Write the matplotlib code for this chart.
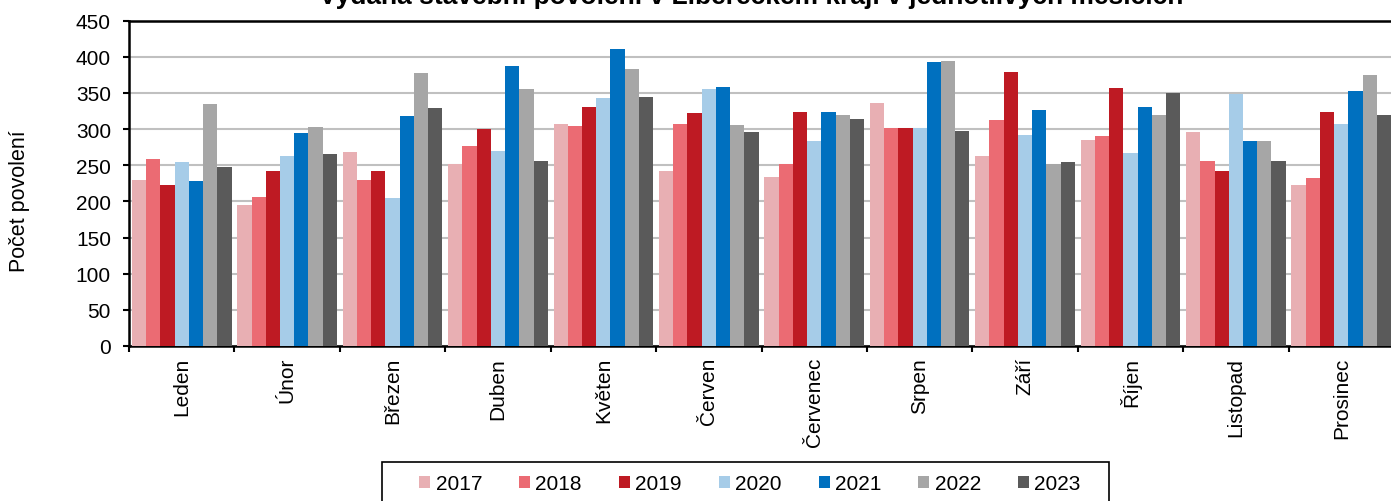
import matplotlib
matplotlib.use("Agg")
import matplotlib.pyplot as plt
from matplotlib.patches import Rectangle
import numpy as np

months = ["Leden", "Únor", "Březen", "Duben", "Květen", "Červen",
          "Červenec", "Srpen", "Září", "Říjen", "Listopad", "Prosinec"]
years = ["2017", "2018", "2019", "2020", "2021", "2022", "2023"]

v2017 = [230, 195, 268, 251, 307, 242, 234, 336, 263, 285, 296, 222]
v2018 = [258, 206, 230, 276, 304, 307, 252, 302, 312, 291, 256, 232]
v2019 = [222, 242, 242, 300, 330, 322, 324, 302, 379, 356, 242, 323]
v2020 = [254, 262, 204, 269, 343, 355, 284, 302, 292, 267, 348, 307]
v2021 = [228, 295, 318, 387, 411, 358, 324, 392, 326, 330, 284, 352]
v2022 = [334, 303, 378, 355, 383, 305, 319, 394, 251, 320, 283, 375]
v2023 = [248, 265, 329, 256, 344, 296, 314, 297, 254, 350, 256, 319]
series = [v2017, v2018, v2019, v2020, v2021, v2022, v2023]

colors = ["#E8AFB3", "#EB6B73", "#BE1A23", "#A6CCE8", "#0070BF", "#A6A6A6", "#5A5A5A"]

plt.rcParams['font.family'] = ['Liberation Sans', 'DejaVu Sans']

W, H = 1391, 502
fig = plt.figure(figsize=(W / 100, H / 100), dpi=100)
ax = fig.add_axes([129 / W, 1 - 347 / H, (1394 - 129) / W, (347 - 21.5) / H])

x = np.arange(len(months))
bw = 0.135
for i, (vals, col, yr) in enumerate(zip(series, colors, years)):
    off = (i - 3) * bw
    ax.bar(x + off, vals, width=bw, color=col, label=yr, zorder=3)

ax.set_xlim(-0.5, len(months) - 0.5)
ax.set_ylim(0, 450)
ax.set_yticks(np.arange(0, 451, 50))
ax.yaxis.grid(True, color="#C0C0C0", linewidth=1.5, zorder=0)
ax.set_axisbelow(True)

# group boundaries as major ticks, month names as minor ticks
ax.set_xticks(np.arange(-0.5, len(months), 1.0))
ax.set_xticklabels([])
ax.set_xticks(x, minor=True)
ax.set_xticklabels(months, minor=True, rotation=90, fontsize=15, va="top")
ax.tick_params(axis="x", which="minor", length=0, pad=8)
ax.tick_params(axis="x", which="major", length=4, width=1.5, direction="out")
ax.tick_params(axis="y", length=4, width=1.5, direction="out", labelsize=15, pad=9)

for s in ["left", "bottom", "top"]:
    ax.spines[s].set_linewidth(1.8)
    ax.spines[s].set_color("black")
ax.spines["right"].set_visible(False)

fig.text(20 / W, 1 - 201 / H, "Počet povolení", rotation=90, fontsize=15.5,
         ha="center", va="center")

fig.text(751 / W, 1 - 4 / H,
         "Vydaná stavební povolení v Libereckém kraji v jednotlivých měsících",
         fontsize=19, fontweight="bold", ha="center", va="baseline")

# legend frame drawn separately, runs off the bottom edge like the original
fig.patches.append(Rectangle((381.5 / W, -0.05), (1108.5 - 381.5) / W, 0.05 + 1 - 463 / H,
                             transform=fig.transFigure, fill=False,
                             edgecolor="black", linewidth=1.2))
leg = fig.legend(loc="center", bbox_to_anchor=(750 / W, 1 - 485 / H),
                 ncol=7, fontsize=15, frameon=False,
                 handlelength=0.53, handleheight=0.53, handletextpad=0.25,
                 columnspacing=1.78, borderpad=0, borderaxespad=0)

fig.savefig("out.png", dpi=100)
